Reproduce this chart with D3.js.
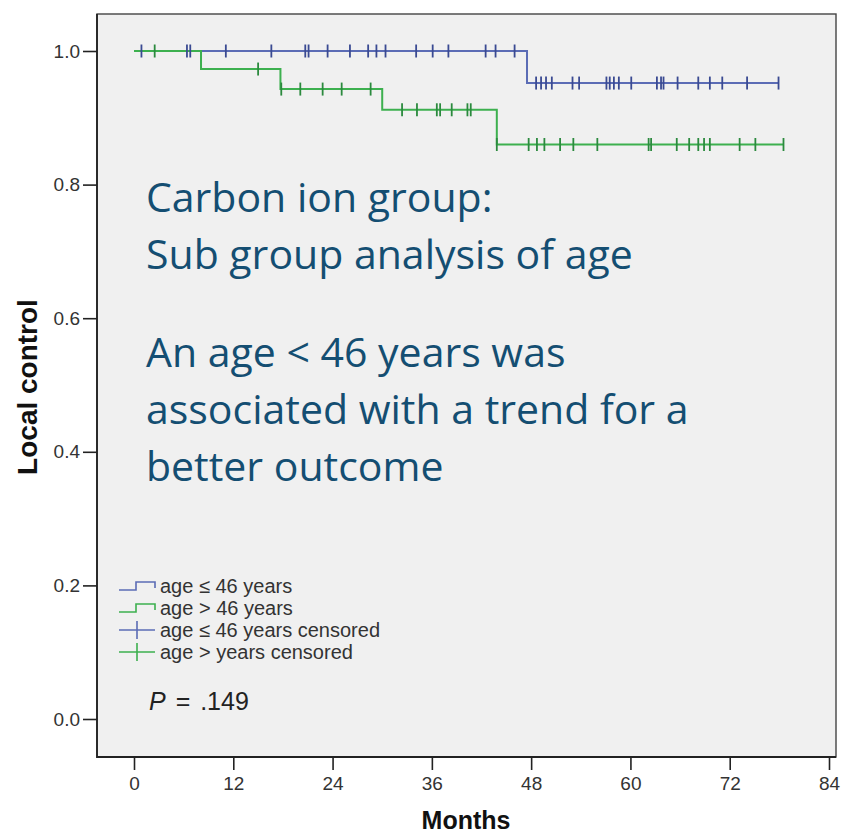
<!DOCTYPE html>
<html>
<head>
<meta charset="utf-8">
<script src="https://cdn.jsdelivr.net/npm/d3@7"></script>
<style>
  body { margin: 0; background: #fff; }
  svg { display: block; }
</style>
</head>
<body>
<svg width="845" height="837"></svg>
<script>
// Kaplan-Meier step points: [month, local control]
const youngSteps = [[0, 1.0], [47.5, 0.952], [77.9, 0.952]];
const oldSteps = [[0, 1.0], [8.1, 0.973], [17.7, 0.943], [30.0, 0.912], [43.85, 0.86], [78.5, 0.86]];

// censored observations (months)
const youngCensored = [0.9, 6.4, 6.8, 11.1, 16.6, 20.7, 21.1, 23.4, 26.1, 28.3, 29.3, 30.4, 34.1,
  36.1, 38.0, 42.5, 43.7, 46.0,
  48.6, 49.2, 49.8, 50.5, 53.0, 53.8, 57.1, 57.5, 58.0, 58.6, 60.1, 63.2, 63.7, 64.0, 65.7,
  68.2, 69.6, 71.1, 74.1, 77.9];
const oldCensored = [2.5, 15.0, 17.8, 20.1, 22.8, 25.1, 28.6,
  32.4, 34.2, 36.6, 37.0, 38.4, 40.3, 40.7, 43.85,
  47.7, 48.7, 49.6, 51.5, 53.1, 56.0, 62.2, 62.5, 65.6, 67.1, 68.2, 68.9, 69.6, 73.2, 75.1, 78.5];

const xTicks = [0, 12, 24, 36, 48, 60, 72, 84];
const yTicks = [0, 0.2, 0.4, 0.6, 0.8, 1.0];

const legendLabels = ['age \u2264 46 years', 'age > 46 years', 'age \u2264 46 years censored', 'age > years censored'];
const headingLines = ['Carbon ion group:', 'Sub group analysis of age'];
const bodyLines = ['An age < 46 years was', 'associated with a trend for a', 'better outcome'];

const blue = '#5b6cb5', blueDark = '#3a4a92';
const green = '#3db04f', greenDark = '#2b8a3e';
const font = 'Liberation Sans, Arial, sans-serif';

const svg = d3.select('svg');
const frame = { left: 97, top: 14, right: 836, bottom: 757 };

const x = d3.scaleLinear().domain([0, 84]).range([134, 829]);
const y = d3.scaleLinear().domain([0, 1]).range([719, 51]);

// plot background and frame
svg.append('rect')
  .attr('x', frame.left).attr('y', frame.top)
  .attr('width', frame.right - frame.left).attr('height', frame.bottom - frame.top)
  .attr('fill', '#f0f0f0')
  .attr('stroke', '#444').attr('stroke-width', 1.4);
svg.append('path')
  .attr('d', `M${frame.left},${frame.top}V${frame.bottom}H${frame.right}`)
  .attr('fill', 'none').attr('stroke', '#222').attr('stroke-width', 1.8);

// axes
const xAxis = svg.append('g')
  .attr('transform', `translate(0,${frame.bottom})`)
  .call(d3.axisBottom(x).tickValues(xTicks).tickSize(13).tickPadding(7));
const yAxis = svg.append('g')
  .attr('transform', `translate(${frame.left},0)`)
  .call(d3.axisLeft(y).tickValues(yTicks).tickSize(14).tickPadding(3).tickFormat(d3.format('.1f')));
[xAxis, yAxis].forEach(g => {
  g.select('.domain').remove();
  g.selectAll('line').attr('stroke', '#222').attr('stroke-width', 1.6);
  g.selectAll('text')
    .attr('fill', '#333')
    .attr('font-family', font)
    .attr('font-size', 19);
});

svg.append('text')
  .attr('x', 466).attr('y', 829)
  .attr('text-anchor', 'middle')
  .attr('font-family', font)
  .attr('font-weight', 'bold').attr('font-size', 25)
  .attr('fill', '#111')
  .text('Months');

svg.append('text')
  .attr('transform', 'translate(37,387) rotate(-90)')
  .attr('text-anchor', 'middle')
  .attr('font-family', font)
  .attr('font-weight', 'bold').attr('font-size', 28)
  .attr('fill', '#111')
  .text('Local control');

// survival curves
const line = d3.line()
  .x(d => x(d[0]))
  .y(d => y(d[1]))
  .curve(d3.curveStepAfter);

svg.append('path').datum(youngSteps)
  .attr('d', line).attr('fill', 'none').attr('stroke', blue).attr('stroke-width', 2);
svg.append('path').datum(oldSteps)
  .attr('d', line).attr('fill', 'none').attr('stroke', green).attr('stroke-width', 2);

function survivalAt(steps, t) {
  let s = steps[0][1];
  steps.forEach(d => { if (d[0] <= t) s = d[1]; });
  return s;
}

function drawCensored(times, steps, color) {
  svg.append('g').selectAll('line')
    .data(times)
    .enter()
    .append('line')
    .attr('x1', d => x(d)).attr('x2', d => x(d))
    .attr('y1', d => y(survivalAt(steps, d)) - 6.5)
    .attr('y2', d => y(survivalAt(steps, d)) + 6.5)
    .attr('stroke', color).attr('stroke-width', 1.8);
}
drawCensored(oldCensored, oldSteps, greenDark);
drawCensored(youngCensored, youngSteps, blueDark);

// legend
const legend = svg.append('g').attr('transform', 'translate(119,586)');
legendLabels.forEach((label, i) => {
  const g = legend.append('g').attr('transform', `translate(0,${i * 22})`);
  const c = i % 2 === 0 ? blue : green;
  if (i < 2) {
    g.append('path')
      .attr('d', 'M0,4H17V-4H36V2')
      .attr('fill', 'none').attr('stroke', c).attr('stroke-width', 1.6);
  } else {
    g.append('path')
      .attr('d', 'M0,0H36M18,-9V9')
      .attr('fill', 'none').attr('stroke', c).attr('stroke-width', 1.6);
  }
  g.append('text')
    .attr('x', 41).attr('y', 7)
    .attr('font-family', font)
    .attr('font-size', 20)
    .attr('fill', '#333')
    .text(label);
});

const pText = svg.append('text')
  .attr('x', 149).attr('y', 710)
  .attr('font-family', font)
  .attr('font-size', 25)
  .attr('word-spacing', 3)
  .attr('fill', '#222');
pText.append('tspan').attr('font-style', 'italic').text('P');
pText.append('tspan').text(' = .149');

// annotation
function drawParagraph(lines, baseline) {
  svg.append('g').selectAll('text')
    .data(lines)
    .enter()
    .append('text')
    .attr('x', 146)
    .attr('y', (d, i) => baseline + i * 57)
    .attr('font-family', 'Open Sans, sans-serif')
    .attr('font-size', 41)
    .attr('fill', '#144e72')
    .text(d => d);
}
drawParagraph(headingLines, 212);
drawParagraph(bodyLines, 367);
</script>
</body>
</html>
